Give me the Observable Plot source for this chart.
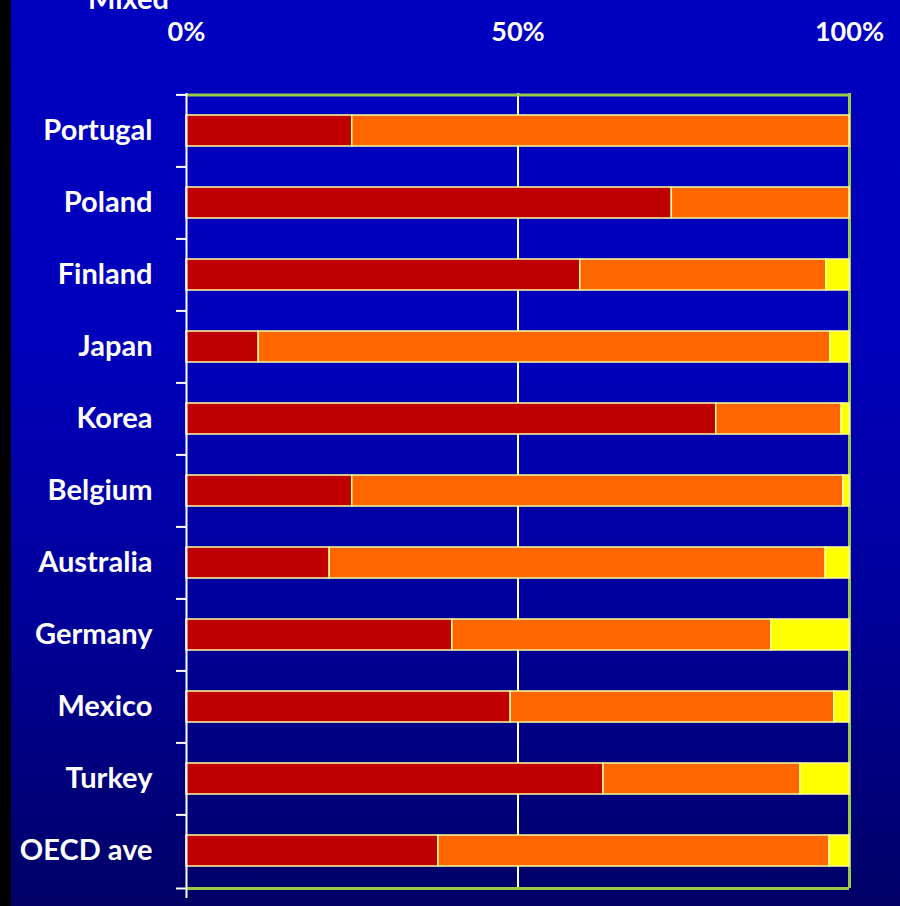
<!DOCTYPE html>
<html>
<head>
<meta charset="utf-8">
<script src="https://cdn.jsdelivr.net/npm/d3@7"></script>
<script src="https://cdn.jsdelivr.net/npm/@observablehq/plot@0.6"></script>
<style>
  html, body { margin: 0; padding: 0; background: #000; }
  #wrap { position: relative; width: 900px; height: 906px; overflow: hidden;
    background: linear-gradient(to right, #000 11px, transparent 11px),
                linear-gradient(to bottom, #0000c0 0%, #0000bb 38%, #00009a 68%, #000066 100%); }
  #cut { position: absolute; left: 88px; top: -20px; color: #fff; font: 700 29px Lato, sans-serif; }
  #chart { position: absolute; left: 0; top: 0; }
</style>
</head>
<body>
<div id="wrap"><div id="cut">Mixed</div><div id="chart"></div></div>
<script>
const countries = ["Portugal","Poland","Finland","Japan","Korea","Belgium","Australia","Germany","Mexico","Turkey","OECD ave"];
const seriesNames = ["s1","s2","s3"];
const s1 = [25.0, 73.2, 59.4, 10.9, 79.9, 25.0, 21.6, 40.1, 48.9, 62.9, 38.0];
const s2 = [75.0, 26.8, 37.1, 86.2, 18.9, 74.1, 74.8, 48.1, 48.8, 29.7, 59.0];
const s3 = [0.0, 0.0, 3.5, 2.9, 1.2, 0.9, 3.6, 11.8, 2.3, 7.4, 3.0];
const xTicks = [0, 50, 100];
const colors = ["#c00000", "#ff6600", "#ffff00"];

const rows = [];
countries.forEach((c, i) => {
  [s1, s2, s3].forEach((s, k) => rows.push({country: c, series: seriesNames[k], value: s[i]}));
});

const chart = Plot.plot({
  width: 900, height: 906,
  marginLeft: 186, marginRight: 51, marginTop: 93, marginBottom: 18,
  style: {background: "transparent", color: "#fff", overflow: "visible"},
  x: {domain: [0, 100], label: null},
  y: {domain: countries, paddingInner: 0.57, paddingOuter: 0.285, label: null},
  color: {domain: seriesNames, range: colors},
  marks: [
    Plot.ruleX([50], {stroke: "#fff", strokeWidth: 2}),
    Plot.ruleY([0], {y: () => countries[0], dy: -36.1, x1: 0, x2: 100, stroke: "#99cc44", strokeWidth: 3}),
    Plot.ruleY([0], {y: () => countries[countries.length - 1], dy: 37.5, x1: 0, x2: 100, stroke: "#99cc44", strokeWidth: 3}),
    Plot.ruleX([100], {stroke: "#99cc44", strokeWidth: 3}),
    Plot.barX(rows, Plot.stackX({x: "value", y: "country", fill: "series", stroke: "#ffff99", strokeWidth: 1.5, order: seriesNames})),
    Plot.ruleX([0], {stroke: "#fff", strokeWidth: 2, insetBottom: -10}),
    Plot.axisY({tickSize: 10, stroke: "#fff", strokeWidth: 2, tickFormat: null, dy: -36.1, label: null}),
    Plot.ruleY([0], {y: () => countries[countries.length - 1], dy: 37.5, x1: -1.5, x2: 0, stroke: "#fff", strokeWidth: 2}),
    Plot.axisY({tickSize: 0, tickPadding: 34, fontSize: 29, fontFamily: "Lato, sans-serif", fontWeight: 700, fill: "#fff", label: null}),
    Plot.axisX({anchor: "top", ticks: xTicks, tickSize: 0, tickPadding: 53, tickFormat: d => d + "%", fontSize: 27, fontFamily: "Lato, sans-serif", fontWeight: 700, fill: "#fff", label: null})
  ]
});
document.getElementById("chart").appendChild(chart);
</script>
</body>
</html>
